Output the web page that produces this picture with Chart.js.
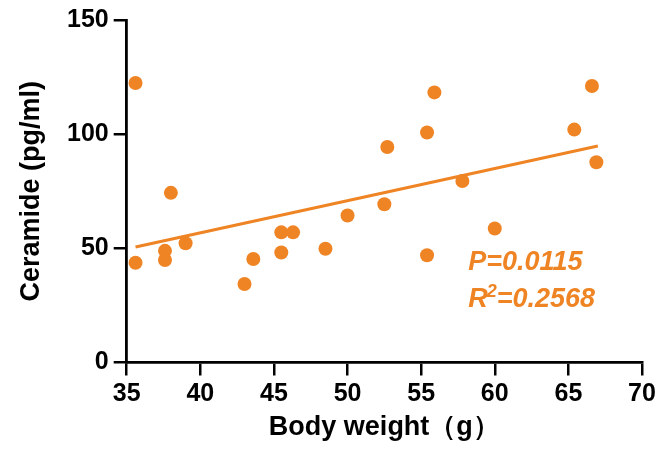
<!DOCTYPE html><html lang="en">
<head>
<meta charset="utf-8"/>
<title>Ceramide vs body weight</title>
<script src="https://cdn.jsdelivr.net/npm/chart.js"></script>
<style>
  html,body{margin:0;padding:0;background:#fff}
  canvas{display:block}
</style>
</head>
<body>
<canvas id="chart" width="661" height="450"></canvas>
<script>
// -------- data --------
const weight   = [35.6, 37.6, 37.6, 38.0, 39.0, 43.0, 43.6, 45.5, 45.5, 46.3, 48.5, 50.0, 52.5, 52.7, 55.4, 55.4, 55.9, 57.8, 60.0, 65.4, 66.6, 66.9, 35.6];
const ceramide = [43.7, 44.9, 48.9, 74.3, 52.2, 34.4, 45.3, 48.2, 57.0, 57.0, 49.8, 64.4, 69.3, 94.4, 100.7, 47.0, 118.3, 79.5, 58.7, 102.0, 121.1, 87.7, 122.4];
const fitX     = [35.6, 67.0];
const fitY     = [50.6, 94.8];
const xTicks   = [35, 70, 5];   // min, max, step
const yTicks   = [0, 150, 50];
const statP    = 'P=0.0115';
const statR2   = '=0.2568';

const ORANGE = '#EF8424';
const FONT = "'Liberation Sans', Arial, sans-serif";

const pts  = weight.map((w, i) => ({x: w, y: ceramide[i]}));
const line = fitX.map((w, i) => ({x: w, y: fitY[i]}));

// stats text in the lower right
const statsText = {
  id: 'statsText',
  afterDatasetsDraw(chart){
    const {ctx, scales:{x, y}} = chart;
    const left = x.getPixelForValue(58.2);
    ctx.save();
    ctx.fillStyle = ORANGE;
    ctx.textBaseline = 'middle';
    ctx.textAlign = 'left';
    ctx.font = 'italic bold 27px ' + FONT;
    ctx.fillText(statP, left, y.getPixelForValue(43.6));
    const yr = y.getPixelForValue(27.4);
    ctx.fillText('R', left, yr);
    let w = ctx.measureText('R').width;
    ctx.font = 'italic bold 18px ' + FONT;
    ctx.fillText('2', left + w - 1, yr - 8);
    w += ctx.measureText('2').width - 1;
    ctx.font = 'italic bold 27px ' + FONT;
    ctx.fillText(statR2, left + w, yr);
    ctx.restore();
  }
};

new Chart(document.getElementById('chart'), {
  type: 'scatter',
  data: {
    datasets: [
      {data: pts, backgroundColor: ORANGE, borderColor: ORANGE, pointRadius: 7, pointHoverRadius: 7, borderWidth: 0, clip: false, order: 1},
      {type: 'line', data: line, borderColor: ORANGE, borderWidth: 3, pointRadius: 0, fill: false, clip: false, order: 2}
    ]
  },
  options: {
    responsive: false,
    animation: false,
    layout: {padding: {left: 0, right: 19, top: 20, bottom: 0}},
    plugins: {legend: {display: false}, tooltip: {enabled: false}},
    scales: {
      x: {
        type: 'linear', min: xTicks[0], max: xTicks[1],
        ticks: {stepSize: xTicks[2], color: '#000', padding: 4, maxRotation: 0,
                font: {family: FONT, size: 25, weight: 'bold'}},
        grid: {drawOnChartArea: false, drawTicks: true, tickLength: 13, color: '#000', lineWidth: 2.5},
        border: {display: true, color: '#000', width: 2.8},
        title: {display: true, text: 'Body weight（g）', color: '#000',
                font: {family: FONT, size: 27, weight: 'bold'}, padding: {top: 0, bottom: 6}},
        afterFit: s => { s.height = 87.5; }
      },
      y: {
        type: 'linear', min: yTicks[0], max: yTicks[1],
        ticks: {stepSize: yTicks[2], color: '#000', padding: 5,
                font: {family: FONT, size: 25, weight: 'bold'}},
        grid: {drawOnChartArea: false, drawTicks: true, tickLength: 13, color: '#000', lineWidth: 2.5},
        border: {display: true, color: '#000', width: 2.8},
        title: {display: true, text: 'Ceramide (pg/ml)', color: '#000',
                font: {family: FONT, size: 27, weight: 'bold'}, padding: {top: 15, bottom: 0}},
        afterFit: s => { s.width = 126.7; }
      }
    }
  },
  plugins: [statsText]
});
</script>
</body>
</html>
